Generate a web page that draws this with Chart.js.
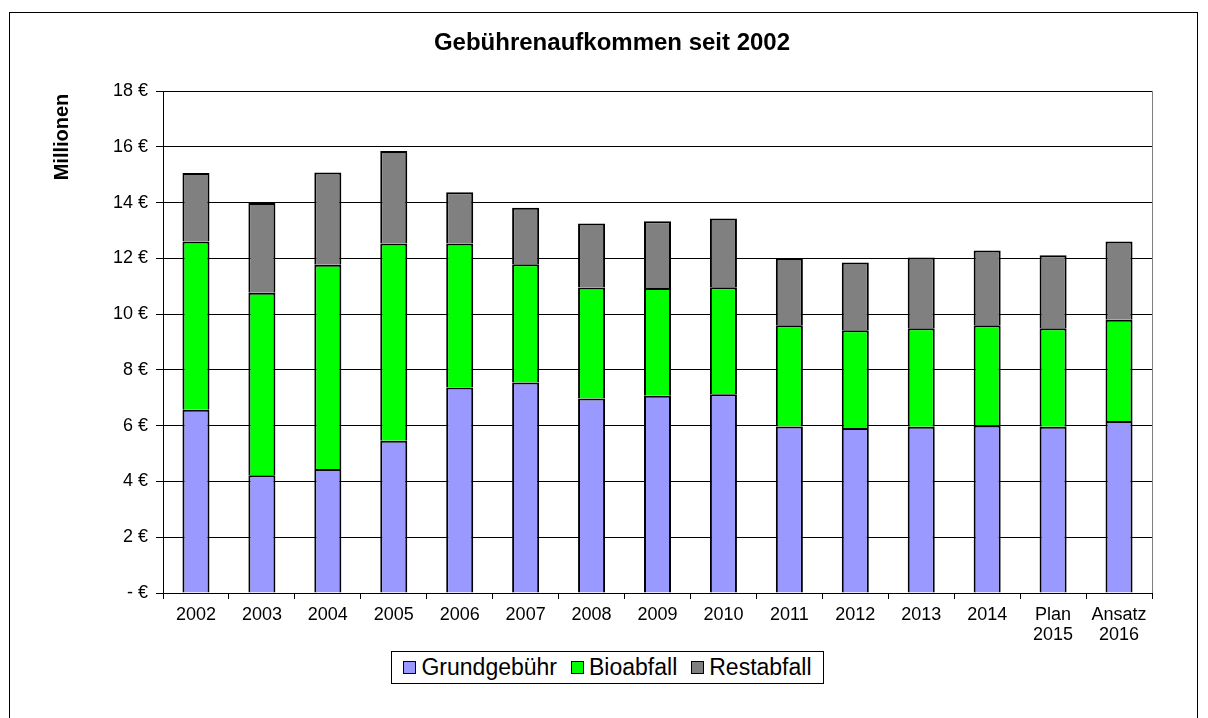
<!DOCTYPE html>
<html>
<head>
<meta charset="utf-8">
<script src="https://cdn.jsdelivr.net/npm/chart.js@4.4.1/dist/chart.umd.min.js"></script>
<style>
  html, body { margin: 0; padding: 0; background: #fff; }
  #wrap { position: relative; width: 1208px; height: 718px; overflow: hidden; }
  #c { position: absolute; left: 0; top: 0; }
  #legend {
    position: absolute; left: 391px; top: 651px; width: 433px; height: 33px;
    box-sizing: border-box; border: 1px solid #000; background: #fff;
    display: flex; align-items: center; justify-content: center; gap: 14px;
    font-family: "Liberation Sans", Arial, sans-serif; font-size: 23px; color: #000;
  }
  #legend .item { display: flex; align-items: center; gap: 5px; white-space: nowrap; }
  #legend .sw { width: 11px; height: 11px; border: 1px solid #000; }
</style>
</head>
<body>
<div id="wrap">
  <canvas id="c" width="1208" height="718"></canvas>
  <div id="legend"></div>
</div>
<script>
const chartTitle = 'Gebührenaufkommen seit 2002';
const axisTitle = 'Millionen';
const categories = [
  '2002','2003','2004','2005','2006','2007','2008','2009','2010',
  '2011','2012','2013','2014',['Plan','2015'],['Ansatz','2016']
];
const seriesNames = ['Grundgebühr', 'Bioabfall', 'Restabfall'];
const grundgebuehr = [6.57, 4.22, 4.45, 5.46, 7.37, 7.55, 6.97, 7.07, 7.13, 5.97, 5.92, 5.96, 6.01, 5.96, 6.17];
const bioabfall    = [6.03, 6.55, 7.32, 7.07, 5.16, 4.24, 3.98, 3.87, 3.83, 3.63, 3.50, 3.53, 3.59, 3.53, 3.63];
const restabfall   = [2.46, 3.21, 3.31, 3.32, 1.84, 2.02, 2.30, 2.39, 2.47, 2.39, 2.43, 2.54, 2.68, 2.62, 2.80];
const yTickLabels  = ['- €','2 €','4 €','6 €','8 €','10 €','12 €','14 €','16 €','18 €'];
const yMin = 0, yMax = 18, yStep = 2;

const colors = ['#9999FF', '#00FF00', '#808080'];
const FONT = '"Liberation Sans", Arial, sans-serif';

const framePlugin = {
  id: 'frame',
  beforeDraw(chart) {
    const ctx = chart.ctx;
    ctx.save();
    ctx.fillStyle = '#fff';
    ctx.fillRect(0, 0, chart.width, chart.height);
    ctx.strokeStyle = '#000';
    ctx.lineWidth = 1;
    ctx.strokeRect(9.5, 12.5, 1188, 800);
    ctx.restore();
  },
  afterDatasetsDraw(chart) {
    const ctx = chart.ctx, a = chart.chartArea;
    ctx.save();
    ctx.strokeStyle = '#808080';
    ctx.lineWidth = 1;
    ctx.beginPath();
    ctx.moveTo(Math.round(a.right) + 0.5, a.top);
    ctx.lineTo(Math.round(a.right) + 0.5, a.bottom);
    ctx.stroke();
    ctx.restore();
  },
  afterDraw(chart) {
    const ctx = chart.ctx;
    ctx.save();
    ctx.fillStyle = '#000';
    ctx.textAlign = 'center';
    ctx.textBaseline = 'middle';
    ctx.font = 'bold 24px ' + FONT;
    ctx.fillText(chartTitle, 612, 43);
    ctx.translate(62, 137);
    ctx.rotate(-Math.PI / 2);
    ctx.font = 'bold 20px ' + FONT;
    ctx.fillText(axisTitle, 0, 0);
    ctx.restore();
  }
};

const series = [grundgebuehr, bioabfall, restabfall];
const chart = new Chart(document.getElementById('c'), {
  type: 'bar',
  data: {
    labels: categories,
    datasets: series.map((d, i) => ({
      label: seriesNames[i],
      data: d,
      backgroundColor: colors[i],
      borderColor: '#000',
      borderWidth: 2,
      categoryPercentage: 1,
      barPercentage: 0.41
    }))
  },
  options: {
    responsive: false,
    animation: false,
    layout: { padding: { left: 0, right: 56, top: 91, bottom: 0 } },
    plugins: { legend: { display: false }, title: { display: false }, tooltip: { enabled: false } },
    scales: {
      x: {
        stacked: true,
        offset: true,
        grid: { display: true, drawOnChartArea: false, drawTicks: true, tickLength: 6, offset: true, color: '#000', lineWidth: 1 },
        border: { display: true, color: '#000', width: 1 },
        ticks: { color: '#000', font: { family: FONT, size: 18, lineHeight: 1.1 }, padding: 6, maxRotation: 0, autoSkip: false },
        afterFit(scale) { scale.height = 125; }
      },
      y: {
        stacked: true,
        min: yMin, max: yMax,
        grid: { color: '#000', lineWidth: 1, drawTicks: true, tickLength: 7 },
        border: { display: true, color: '#000', width: 1 },
        ticks: {
          stepSize: yStep, color: '#000', padding: 8,
          font: { family: FONT, size: 18 },
          callback: (v) => yTickLabels[Math.round((v - yMin) / yStep)]
        },
        afterFit(scale) { scale.width = 163; }
      }
    }
  },
  plugins: [framePlugin]
});

const legend = document.getElementById('legend');
chart.data.datasets.forEach(ds => {
  const item = document.createElement('div');
  item.className = 'item';
  const sw = document.createElement('span');
  sw.className = 'sw';
  sw.style.background = ds.backgroundColor;
  const tx = document.createElement('span');
  tx.textContent = ds.label;
  item.appendChild(sw);
  item.appendChild(tx);
  legend.appendChild(item);
});
</script>
</body>
</html>
